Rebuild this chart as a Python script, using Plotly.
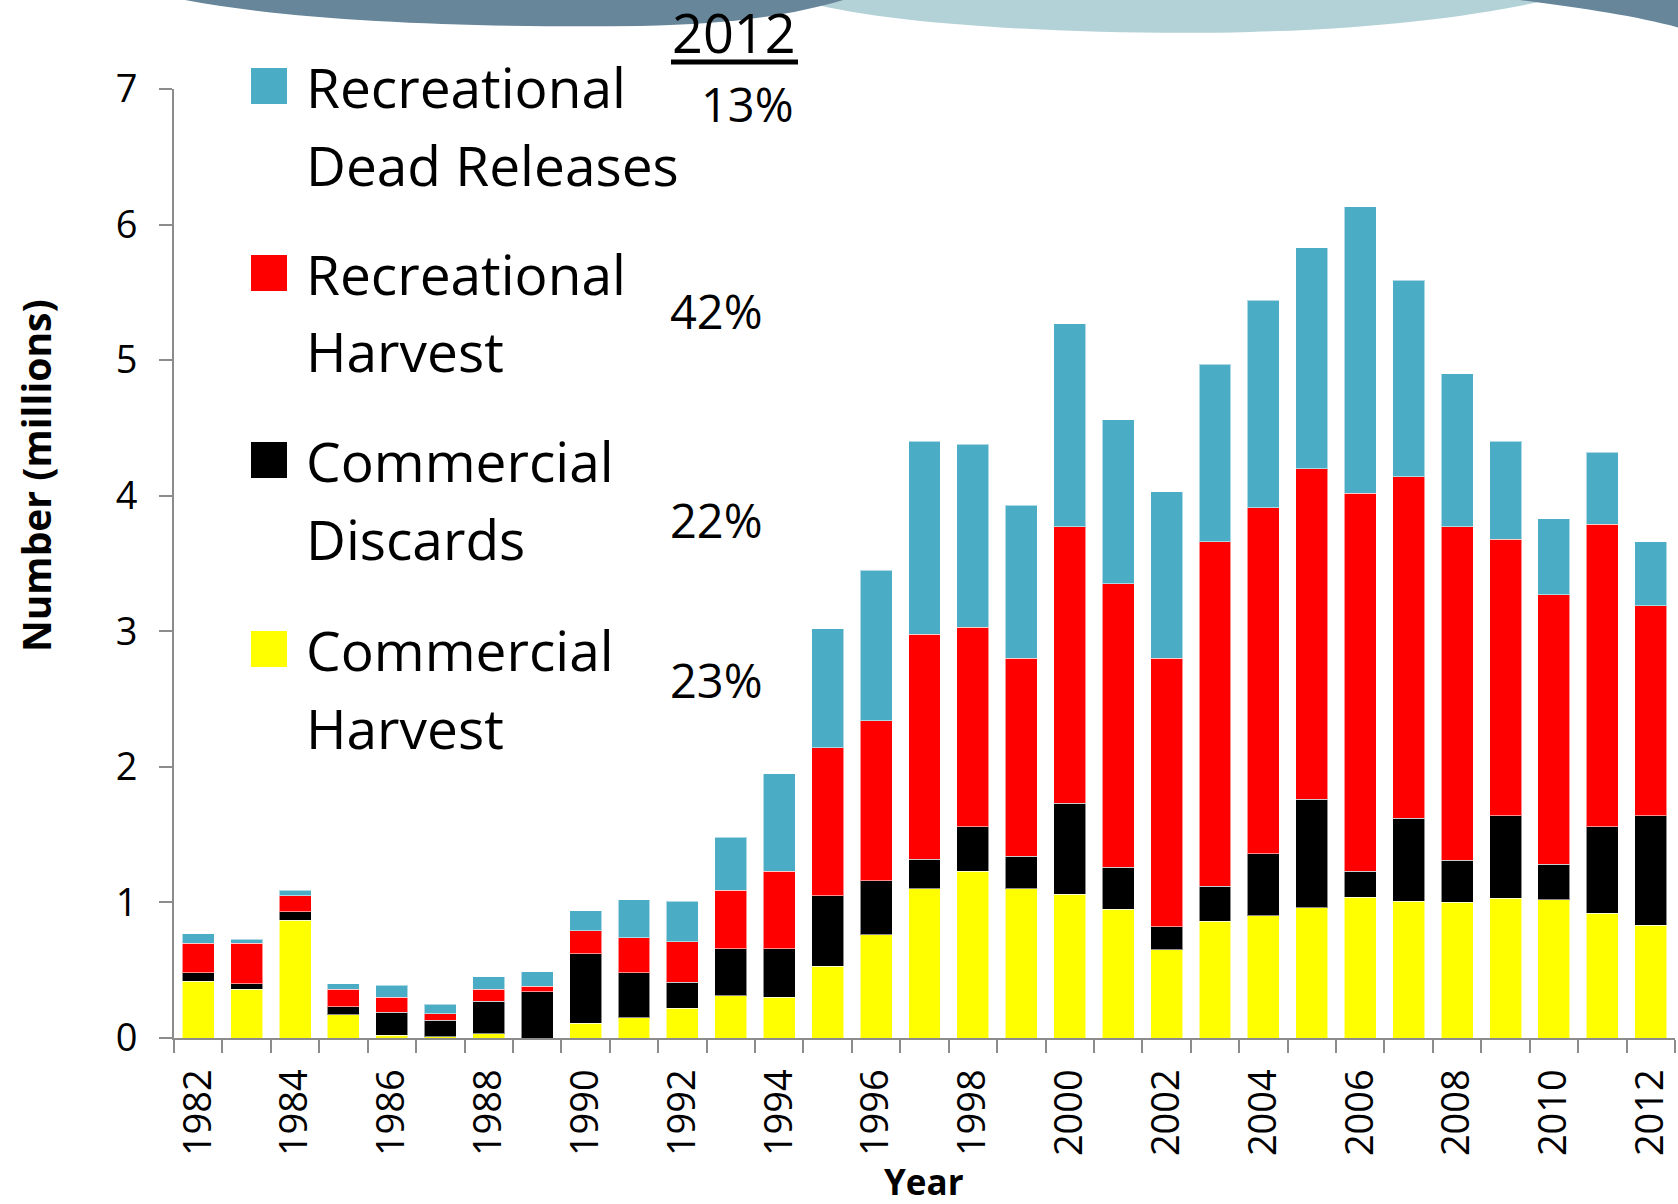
import plotly.graph_objects as go

# Data (millions of fish)
years = list(range(1982, 2013))
comm_harvest = [0.42, 0.36, 0.87, 0.17, 0.02, 0.01, 0.03, 0.00, 0.11, 0.15,
                0.22, 0.31, 0.30, 0.53, 0.76, 1.10, 1.23, 1.10, 1.06, 0.95,
                0.65, 0.86, 0.90, 0.96, 1.04, 1.01, 1.00, 1.03, 1.02, 0.92, 0.83]
comm_discards = [0.06, 0.04, 0.06, 0.06, 0.17, 0.12, 0.24, 0.34, 0.51, 0.33,
                 0.19, 0.35, 0.36, 0.52, 0.40, 0.22, 0.33, 0.24, 0.67, 0.31,
                 0.17, 0.26, 0.46, 0.80, 0.19, 0.61, 0.31, 0.61, 0.26, 0.64, 0.81]
rec_harvest = [0.22, 0.30, 0.12, 0.13, 0.11, 0.05, 0.09, 0.04, 0.17, 0.26,
               0.30, 0.43, 0.57, 1.09, 1.18, 1.66, 1.47, 1.46, 2.04, 2.09,
               1.98, 2.54, 2.55, 2.44, 2.79, 2.52, 2.46, 2.04, 1.99, 2.23, 1.55]
rec_dead = [0.07, 0.03, 0.04, 0.04, 0.09, 0.07, 0.09, 0.11, 0.15, 0.28,
            0.30, 0.39, 0.72, 0.88, 1.11, 1.42, 1.35, 1.13, 1.50, 1.21,
            1.23, 1.31, 1.53, 1.63, 2.11, 1.45, 1.13, 0.72, 0.56, 0.53, 0.47]

series_names = [("Commercial", "Harvest"), ("Commercial", "Discards"),
                ("Recreational", "Harvest"), ("Recreational", "Dead Releases")]
pct_2012 = ["23%", "22%", "42%", "13%"]
colors = ["#ffff00", "#000000", "#ff0000", "#4bacc6"]

W, H = 1678, 1204
L, R, T, B = 174, 3, 89, 166
PW, PH = W - L - R, H - T - B
FONT = "Open Sans"


# pixel position -> paper coordinate
def px(x):
    return (x - L) / PW


def py(y):
    return (H - B - y) / PH


def svg(cmds):
    out = []
    for c in cmds:
        if isinstance(c, str):
            out.append(c)
        else:
            out.append(f"{px(c[0]):.4f},{py(c[1]):.4f}")
    return " ".join(out)


fig = go.Figure()
for vals, (n1, n2), col in zip([comm_harvest, comm_discards, rec_harvest, rec_dead],
                               series_names, colors):
    fig.add_trace(go.Bar(
        x=years, y=vals, name=f"{n1} {n2}",
        marker=dict(color=col, line=dict(width=1, color="rgba(255,255,255,0.55)")),
        showlegend=False,
    ))

shapes = []
annotations = []

# decorative banner at the top
shapes.append(dict(type="path", xref="paper", yref="paper", layer="below",
                   path=svg(["M", (800, -5), "L", (800, 0), "C", (880, 26), (1100, 36),
                             (1250, 32), "C", (1400, 28), (1500, 12), (1570, -5), "Z"]),
                   fillcolor="#b3d2d8", line=dict(width=0)))
shapes.append(dict(type="path", xref="paper", yref="paper", layer="below",
                   path=svg(["M", (185, -5), "L", (185, 0), "C", (300, 22), (480, 28),
                             (640, 26), "C", (740, 24), (800, 14), (860, -5), "Z"]),
                   fillcolor="#67869a", line=dict(width=0)))
shapes.append(dict(type="path", xref="paper", yref="paper", layer="below",
                   path=svg(["M", (1480, -5), "C", (1560, 5), (1630, 14), (1680, 28),
                             "L", (1680, -5), "Z"]),
                   fillcolor="#67869a", line=dict(width=0)))

# manual legend with large swatches
legend_rows = [86, 273, 460, 649]
for (n1, n2), col, yc in zip(series_names[::-1], colors[::-1], legend_rows):
    shapes.append(dict(type="rect", xref="paper", yref="paper",
                       x0=px(251), x1=px(287), y0=py(yc - 18), y1=py(yc + 18),
                       fillcolor=col, line=dict(width=0)))
    annotations.append(dict(text=n1, x=px(304), y=py(yc), xref="paper", yref="paper",
                            xanchor="left", yanchor="middle", showarrow=False,
                            font=dict(family=FONT, size=55, color="black")))
    annotations.append(dict(text=n2, x=px(304), y=py(yc + 78), xref="paper", yref="paper",
                            xanchor="left", yanchor="middle", showarrow=False,
                            font=dict(family=FONT, size=55, color="black")))

# 2012 share column
annotations.append(dict(text="2012", x=px(734), y=py(32), xref="paper", yref="paper",
                        xanchor="center", yanchor="middle", showarrow=False,
                        font=dict(family=FONT, size=54, color="black")))
shapes.append(dict(type="line", xref="paper", yref="paper",
                   x0=px(671), x1=px(798), y0=py(62), y1=py(62),
                   line=dict(color="black", width=5)))
pct_pos = [(716, 680), (716, 520), (716, 311), (747, 104)]
for txt, (xc, yc) in zip(pct_2012, pct_pos):
    annotations.append(dict(text=txt, x=px(xc), y=py(yc), xref="paper", yref="paper",
                            xanchor="center", yanchor="middle", showarrow=False,
                            font=dict(family=FONT, size=47, color="black")))

# axis titles
annotations.append(dict(text="<b>Number (millions)</b>", x=px(35), y=py(476),
                        xref="paper", yref="paper", textangle=-90, showarrow=False,
                        xanchor="center", yanchor="middle",
                        font=dict(family=FONT, size=39, color="black")))
annotations.append(dict(text="<b>Year</b>", x=px(924), y=py(1181),
                        xref="paper", yref="paper", showarrow=False,
                        xanchor="center", yanchor="middle",
                        font=dict(family=FONT, size=35, color="black")))

fig.update_layout(
    barmode="stack",
    bargap=0.34,
    width=W, height=H,
    margin=dict(l=L, r=R, t=T, b=B, pad=0),
    plot_bgcolor="white", paper_bgcolor="white",
    shapes=shapes,
    annotations=annotations,
    showlegend=False,
    font=dict(family=FONT, color="black"),
)
fig.update_xaxes(
    range=[1981.5, 2012.5],
    tickmode="linear", tick0=1982, dtick=2,
    tickangle=-90,
    ticks="outside", ticklen=14, tickcolor="rgba(0,0,0,0)",
    tickfont=dict(family=FONT, size=38, color="black"),
    showline=True, linecolor="#8c8c8c", linewidth=2,
    showgrid=False, zeroline=False,
    minor=dict(tickmode="linear", tick0=1981.5, dtick=1, ticks="outside",
               ticklen=13, tickcolor="#8c8c8c", tickwidth=2, showgrid=False),
)
fig.update_yaxes(
    range=[0, 7],
    tickmode="linear", tick0=0, dtick=1,
    ticks="outside", ticklen=13, tickcolor="#8c8c8c", tickwidth=2,
    ticklabelstandoff=14,
    tickfont=dict(family=FONT, size=38, color="black"),
    showline=True, linecolor="#8c8c8c", linewidth=2,
    showgrid=False, zeroline=False,
)

# page body has a default margin; drop it so the figure sits at the window corner
fig.write_html("out.html", config={"displayModeBar": False},
               post_script="document.body.style.margin='0';document.body.style.overflow='hidden';")
